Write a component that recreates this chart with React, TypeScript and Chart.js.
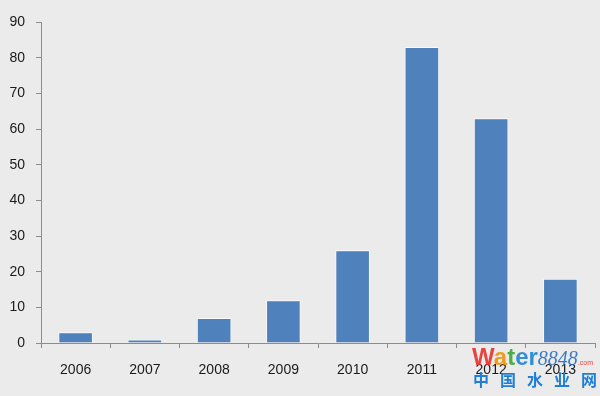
import React, { useEffect, useRef } from "react";
import { Chart, registerables } from "chart.js";

Chart.register(...registerables);

const categories = ["2006", "2007", "2008", "2009", "2010", "2011", "2012", "2013"];
const values = [3, 1, 7, 12, 26, 83, 63, 18];
const yTicks = [0, 10, 20, 30, 40, 50, 60, 70, 80, 90];

export default function App() {
  const ref = useRef<HTMLCanvasElement>(null);
  useEffect(() => {
    if (!ref.current) return;
    const font = { family: "'Liberation Sans', Arial, sans-serif", size: 14 };
    const chart = new Chart(ref.current, {
      type: "bar",
      data: {
        labels: categories,
        datasets: [
          {
            data: values,
            backgroundColor: "#4f81bd",
            borderColor: "rgba(255,255,255,0.7)",
            borderWidth: 1,
            categoryPercentage: 0.5,
            barPercentage: 1,
          },
        ],
      },
      options: {
        responsive: false,
        animation: false,
        layout: { padding: { top: 22, right: 5, left: 0, bottom: 0 } },
        plugins: { legend: { display: false }, tooltip: { enabled: false } },
        scales: {
          x: {
            offset: true,
            grid: {
              offset: true,
              drawOnChartArea: false,
              drawTicks: true,
              tickLength: 5,
              color: "#8c8c8c",
            },
            border: { color: "#8c8c8c", width: 1 },
            ticks: { color: "#1a1a1a", font, padding: 14 },
            afterFit: (s: any) => {
              s.height = 53;
            },
          },
          y: {
            min: 0,
            max: 90,
            afterBuildTicks: (s: any) => {
              s.ticks = yTicks.map((v) => ({ value: v }));
            },
            grid: {
              drawOnChartArea: false,
              drawTicks: true,
              tickLength: 5,
              color: "#8c8c8c",
            },
            border: { color: "#8c8c8c", width: 1 },
            ticks: { color: "#1a1a1a", font, padding: 11 },
            afterFit: (s: any) => {
              s.width = 41;
            },
          },
        },
      },
    });
    return () => chart.destroy();
  }, []);

  return (
    <div
      style={{
        position: "fixed",
        left: 0,
        top: 0,
        width: 600,
        height: 396,
        background: "#ebebeb",
      }}
    >
      <canvas ref={ref} width={600} height={396} style={{ display: "block" }} />
      <div
        style={{
          position: "absolute",
          left: 472,
          top: 345,
          fontFamily: "'Liberation Sans', Arial, sans-serif",
          fontWeight: "bold",
          fontSize: 24,
          lineHeight: "24px",
          whiteSpace: "nowrap",
          opacity: 0.9,
        }}
      >
        <span style={{ color: "#e8322c" }}>W</span>
        <span style={{ color: "#f29400" }}>a</span>
        <span style={{ color: "#3aa935" }}>t</span>
        <span style={{ color: "#1f86d0" }}>er</span>
        <span
          style={{
            color: "#2a6fc0",
            fontFamily: "'Liberation Serif', serif",
            fontStyle: "italic",
            fontWeight: "normal",
            fontSize: 20,
          }}
        >
          8848
        </span>
        <span style={{ color: "#e8322c", fontSize: 7, fontWeight: "normal" }}>.com</span>
      </div>
      <div
        style={{
          position: "absolute",
          left: 473,
          top: 370,
          fontFamily: "'Noto Sans CJK SC', sans-serif",
          fontWeight: "bold",
          fontSize: 16,
          lineHeight: "18px",
          color: "#1f7fd6",
          letterSpacing: 11,
          whiteSpace: "nowrap",
        }}
      >
        中国水业网
      </div>
    </div>
  );
}
